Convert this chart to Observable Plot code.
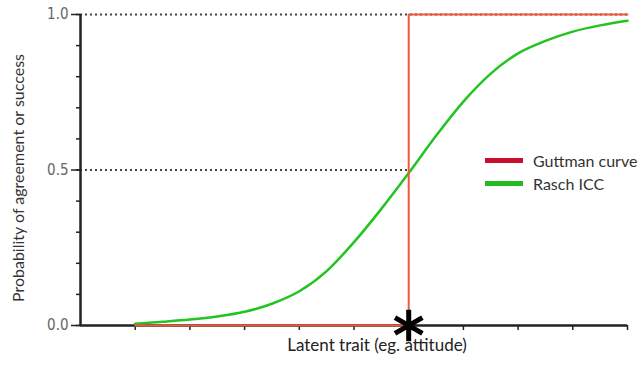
<!DOCTYPE html>
<html>
<head>
<meta charset="utf-8">
<script src="https://cdn.jsdelivr.net/npm/d3@7"></script>
<script src="https://cdn.jsdelivr.net/npm/@observablehq/plot@0.6"></script>
<style>
  html, body { margin: 0; padding: 0; background: #fff; }
  #wrap { position: relative; width: 643px; height: 365px; }
  #legend { position: absolute; left: 485px; top: 149px; font-family: Lato, "Open Sans", sans-serif; font-size: 16px; color: #333; }
  .row { display: flex; align-items: center; height: 23px; }
  .sw { width: 38px; height: 5px; margin-right: 10px; }
</style>
</head>
<body>
<div id="wrap"><div id="legend"></div></div>
<script>
// Data
const traitX  = [1, 1.5, 2, 2.5, 3, 3.5, 4, 4.5, 5, 5.5, 6, 6.5, 7, 7.5, 8, 8.5, 9, 9.5, 10];
const raschP  = [0.006, 0.012, 0.019, 0.029, 0.044, 0.07, 0.11, 0.175, 0.268, 0.375, 0.49, 0.61, 0.72, 0.81, 0.875, 0.915, 0.945, 0.965, 0.98];
const guttmanX = [1, 6, 6, 10];
const guttmanP = [0, 0, 1, 1];
const threshold = 6;
const xTicks = [1, 2, 3, 4, 5, 6, 7, 8, 9, 10];
const yMinorTicks = [0, 0.1, 0.2, 0.3, 0.4, 0.5, 0.6, 0.7, 0.8, 0.9, 1.0];
const yLabelTicks = [0, 0.5, 1.0];
const guideLevels = [1.0, 0.5];
const guideEnds = [10, 6];
const seriesNames = ["Guttman curve", "Rasch ICC"];
const seriesColors = ["#c8102e", "#22bb22"];
const xLabel = "Latent trait (eg. attitude)";
const yLabel = "Probability of agreement or success";

const rasch = traitX.map((x, i) => ({x, p: raschP[i]}));
const guttman = guttmanX.map((x, i) => ({x, p: guttmanP[i]}));
const guides = guideLevels.map((p, i) => ({p, x1: 0, x2: guideEnds[i]}));

const labelFont = "Lato, 'Open Sans', sans-serif";
const tickFont = "'Liberation Sans Narrow', 'DejaVu Sans Condensed', sans-serif";

const chart = Plot.plot({
  width: 643,
  height: 365,
  marginLeft: 80,
  marginRight: 16,
  marginTop: 14,
  marginBottom: 40,
  x: {domain: [0, 10], axis: null},
  y: {domain: [0, 1], axis: null},
  marks: [
    Plot.ruleY(guides, {y: "p", x1: "x1", x2: "x2", stroke: "#444", strokeWidth: 2, strokeDasharray: "2,3"}),
    Plot.axisY({ticks: yMinorTicks, tickSize: 4, tickFormat: () => "", label: null, stroke: "#222", strokeWidth: 1.5}),
    Plot.axisY({ticks: yLabelTicks, tickSize: 9, tickPadding: 3, tickFormat: d3.format(".1f"), label: null,
      stroke: "#222", strokeWidth: 1.5, fill: "#666", fontSize: 15, fontFamily: tickFont}),
    Plot.axisX({ticks: xTicks, tickSize: 5, tickFormat: () => "", label: null, stroke: "#222", strokeWidth: 1.5}),
    Plot.ruleX([0], {stroke: "#222", strokeWidth: 2.5}),
    Plot.ruleY([0], {stroke: "#222", strokeWidth: 2.5}),
    Plot.line(rasch, {x: "x", y: "p", stroke: "#22c422", strokeWidth: 2.5, curve: "monotone-x"}),
    Plot.line(guttman, {x: "x", y: "p", stroke: "#f0583a", strokeWidth: 2}),
    Plot.dot([threshold], {x: d => d, y: () => 0, symbol: "asterisk", r: 15, stroke: "#000", strokeWidth: 5}),
    Plot.text([xLabel], {frameAnchor: "bottom", dy: 25, dx: 23, fontSize: 17, fontFamily: labelFont, fill: "#222"}),
    Plot.text([yLabel], {frameAnchor: "left", textAnchor: "middle", rotate: -90, dx: -62, dy: 8, fontSize: 16, fontFamily: labelFont, fill: "#333"})
  ]
});
document.getElementById("wrap").prepend(chart);

const legend = document.getElementById("legend");
seriesNames.forEach((name, i) => {
  const row = document.createElement("div");
  row.className = "row";
  const sw = document.createElement("div");
  sw.className = "sw";
  sw.style.background = seriesColors[i];
  const t = document.createElement("span");
  t.textContent = name;
  row.append(sw, t);
  legend.append(row);
});
</script>
</body>
</html>
